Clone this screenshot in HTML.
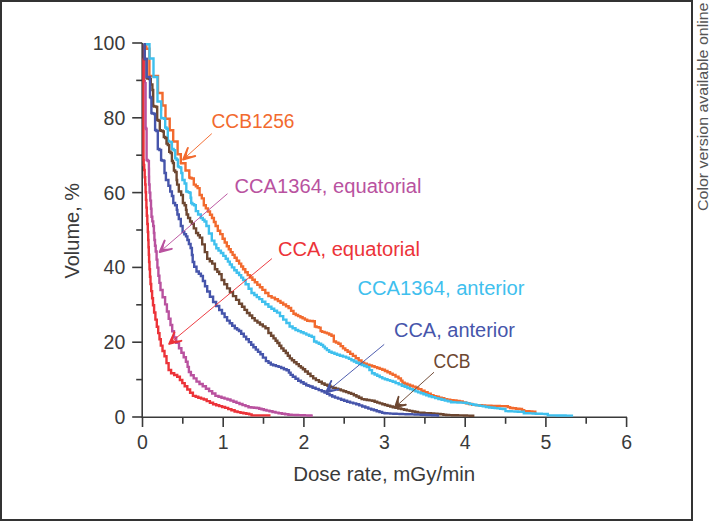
<!DOCTYPE html><html><head><meta charset="utf-8"><style>html,body{margin:0;padding:0;background:#fff;}svg{display:block;}text{font-family:"Liberation Sans", sans-serif;}</style></head><body>
<svg width="710" height="521" viewBox="0 0 710 521">
<rect x="0" y="0" width="710" height="521" fill="#fff"/>
<rect x="1" y="1" width="691" height="519" fill="none" stroke="#333" stroke-width="2"/>
<text transform="translate(708.3 211) rotate(-90)" font-size="14.5" fill="#555" textLength="208.5" lengthAdjust="spacingAndGlyphs">Color version available online</text>
<g stroke="#3a3a3a" stroke-width="1.6" fill="none">
<path d="M142.2 43 V417.2 H627"/>
<path d="M132.2 417.0 H142.2"/>
<path d="M136.2 379.6 H142.2"/>
<path d="M132.2 342.2 H142.2"/>
<path d="M136.2 304.8 H142.2"/>
<path d="M132.2 267.4 H142.2"/>
<path d="M136.2 230.0 H142.2"/>
<path d="M132.2 192.6 H142.2"/>
<path d="M136.2 155.2 H142.2"/>
<path d="M132.2 117.8 H142.2"/>
<path d="M136.2 80.4 H142.2"/>
<path d="M132.2 43.0 H142.2"/>
<path d="M142.5 417.2 V427.0"/>
<path d="M182.8 417.2 V423.8"/>
<path d="M223.2 417.2 V427.0"/>
<path d="M263.5 417.2 V423.8"/>
<path d="M303.9 417.2 V427.0"/>
<path d="M344.2 417.2 V423.8"/>
<path d="M384.5 417.2 V427.0"/>
<path d="M424.9 417.2 V423.8"/>
<path d="M465.2 417.2 V427.0"/>
<path d="M505.6 417.2 V423.8"/>
<path d="M545.9 417.2 V427.0"/>
<path d="M586.2 417.2 V423.8"/>
<path d="M626.6 417.2 V427.0"/>
</g>
<g font-size="19.5" fill="#3a3a3a">
<text x="125.3" y="424.0" text-anchor="end">0</text>
<text x="125.3" y="349.2" text-anchor="end">20</text>
<text x="125.3" y="274.4" text-anchor="end">40</text>
<text x="125.3" y="199.6" text-anchor="end">60</text>
<text x="125.3" y="124.8" text-anchor="end">80</text>
<text x="125.3" y="50.0" text-anchor="end">100</text>
<text x="142.5" y="449.2" text-anchor="middle">0</text>
<text x="223.2" y="449.2" text-anchor="middle">1</text>
<text x="303.9" y="449.2" text-anchor="middle">2</text>
<text x="384.5" y="449.2" text-anchor="middle">3</text>
<text x="465.2" y="449.2" text-anchor="middle">4</text>
<text x="545.9" y="449.2" text-anchor="middle">5</text>
<text x="626.6" y="449.2" text-anchor="middle">6</text>
</g>
<text x="293.2" y="480.5" font-size="19.5" fill="#3a3a3a" textLength="182" lengthAdjust="spacingAndGlyphs">Dose rate, mGy/min</text>
<text transform="translate(78.6 278.5) rotate(-90)" font-size="19.5" fill="#3a3a3a" textLength="95.5" lengthAdjust="spacingAndGlyphs">Volume, %</text>
<path d="M144.0 44.3V81.0H144.8V82.0H145.6" fill="none" stroke="#b9529f" stroke-width="2.4" stroke-linejoin="miter" stroke-linecap="butt"/>
<path d="M144.3 44.3V59.0H143.9V60.0H143.5V160.0H143.7V165.0H144.2V170.0H144.4H144.7V177.2H145.2V184.5H145.4H145.6V192.2H146.0V199.9H146.4V207.6H146.6H146.8V215.8H147.3V224.0H147.6H147.8V232.0H148.2V240.0H148.4H148.5V247.3H148.8V254.7H149.1V262.0H149.2H149.5V269.3H150.0V276.7H150.5V284.0H150.8H151.2V291.1H152.1V298.2H153.0V305.3H153.4H154.1V312.5H155.4V319.6H156.8V326.8H157.5H158.2V333.1H159.5V339.3H160.8V345.6H161.5H162.5V351.0H164.5V356.3H165.5H166.5V363.1H168.6V370.0H169.6H171.1V373.2H172.7H174.2V375.0H177.2V376.8H178.7H179.9V380.0H182.3V383.1H184.7V386.3H185.9H187.3V389.5H190.1V392.7H192.9V395.9H194.3H195.7V396.8H198.3V397.7H201.1V398.6H203.8V399.5H205.1H206.7V401.1H209.9V402.7H213.1V404.3H214.7H216.2V405.2H219.2V406.1H222.1V407.0H225.1V407.9H226.6H228.2V409.1H231.4V410.3H234.6V411.5H236.2H237.6V412.1H240.5V412.7H243.4V413.2H246.3V413.8H249.2V414.4H250.6H251.6V415.4H252.5H270.5" fill="none" stroke="#ec3339" stroke-width="2.4" stroke-linejoin="miter" stroke-linecap="butt"/>
<path d="M145.6 82.0V128.0H146.1V129.0H146.6V160.0H147.7V161.0H148.8H148.9V168.8H149.0V176.7H149.1V184.5H149.2H149.6V192.6H150.3V200.6H150.7H151.0V208.7H151.5V216.8H151.8H152.3V221.4H153.2V226.0H153.7H153.9V233.0H154.4V240.0H154.6H155.0V245.8H155.7V251.5H156.1H156.6V259.6H157.4V267.6H158.4V275.7H158.8H159.4V282.9H160.5V290.0H161.1H162.6V297.2H164.2H165.1V304.4H166.9V311.5H168.7V318.7H169.6H170.5V325.0H172.2V331.2H174.0V337.5H174.9H176.2V342.9H179.0V348.3H180.3H181.4V352.8H183.7V357.2H185.9V361.7H187.0H187.6V366.9H188.9V372.0H189.5H190.9V375.2H193.7V378.4H196.5V381.6H197.9H199.5V384.0H202.7V386.3H205.9V388.7H207.5H209.1V391.1H212.2V393.5H215.4V395.9H217.0H218.5V396.8H221.5V397.7H224.5V398.6H227.5V399.5H229.0H230.5V400.6H233.5V401.8H236.5V402.9H239.5V404.0H241.0H242.5V405.1H245.5V406.1H248.5V407.2H250.0H251.3V407.5H254.0V407.7H256.7V408.0H258.0H259.2V408.7H261.5V409.3H263.8V410.0H265.0H266.5V410.6H269.5V411.3H272.5V412.0H275.5V412.6H277.0H278.6V413.2H281.9V413.7H285.1V414.2H288.4V414.8H290.0H291.6V414.9H294.9V415.0H298.1V415.1H301.4V415.3H304.7V415.4H307.9V415.5H311.2V415.6H312.8" fill="none" stroke="#b9529f" stroke-width="2.4" stroke-linejoin="miter" stroke-linecap="butt"/>
<path d="M143.6 44.3H146.3V48.7H149.4V76.0H158.0V93.0H162.5V105.5H165.5V118.7H169.7V130.2H173.2V141.5H177.6V154.3H180.8V163.3H185.5V170.5H189.3V177.5H190.2V178.0H191.8V178.5H192.7H193.8V184.6H195.0H195.8V186.3H197.6V188.1H198.4H199.6V195.0H200.7H201.8V198.4H203.0H203.8V205.3H204.7H205.8V208.4H207.9V211.5H209.0H210.0V214.8H212.0V218.0H213.0H213.9V222.0H215.6V226.0H216.5H217.8V230.7H219.1H220.2V234.1H221.4H222.6V238.7H223.7H224.7V242.5H226.8V246.3H227.8H228.8V249.2H230.7V252.1H231.7H232.6V254.9H234.6V257.8H235.5H236.7V260.7H239.1V263.6H240.3H241.2V266.5H243.1V269.3H244.1H245.3V272.2H247.7V275.1H248.9H250.1V277.5H252.4V279.8H254.8V282.2H256.0H257.3V284.8H259.9V287.3H262.4V289.9H263.7H265.3V293.0H268.4V296.1H270.0H271.6V297.6H274.9V299.2H276.5H277.9V301.0H280.5V302.7H283.2V304.5H286.0V306.2H288.6V308.0H290.0H291.1V310.9H293.5V313.8H294.6H295.8V315.0H298.1V316.1H300.4V317.3H301.5H302.6V318.4H304.9V319.6H307.2V320.7H308.4H309.8V321.0H312.8V321.3H314.2H314.8V326.5H315.3H316.5V327.1H318.8V327.6H320.0H320.6V331.1H321.1H322.2V331.9H324.6V332.6H326.9V333.4H328.0H329.1V334.5H331.5V335.7H332.6H333.8V341.5H334.9H336.0V342.6H338.4V343.8H339.5H340.6V346.1H343.0V348.4H344.1H345.3V350.1H347.6V351.8H348.8H350.2V353.9H352.9V355.9H354.3H355.7V358.2H358.6V360.5H361.5V362.8H362.9H364.2V363.7H366.8V364.6H369.4V365.4H372.0V366.3H373.3H374.6V367.1H377.2V368.0H379.7V368.9H382.3V369.7H383.6H384.9V371.0H387.5V372.3H390.1V373.6H392.7V374.9H394.0H395.5V376.6H398.5V378.4H400.0H400.9V380.6H402.5V382.8H403.4H404.7V383.8H407.4V384.7H410.1V385.7H412.8V386.6H415.5V387.6H416.8H418.3V389.1H421.4V390.7H424.5V392.2H427.6V393.8H430.7V395.3H432.2H433.5V396.1H436.2V396.8H438.9V397.6H441.6V398.3H444.3V399.1H445.6H447.2V399.6H450.2V400.1H453.4V400.5H456.5V401.0H459.6V401.5H461.1H462.7V402.4H465.9V403.2H469.0V404.0H472.2V404.9H473.8H475.4V405.1H478.7V405.3H481.9V405.4H485.1V405.6H488.4V405.8H490.0H491.4V405.9H494.2V405.9H497.0V406.0H499.9V406.1H502.7V406.1H505.5V406.2H506.9H507.9V407.1H510.1V408.0H511.1H512.8V408.3H516.0V408.7H519.4V409.0H521.0H522.0V410.1H524.2V411.1H525.2H526.6V411.3H529.4V411.5H532.3V411.6H535.1V411.8H536.5" fill="none" stroke="#f26a2e" stroke-width="2.4" stroke-linejoin="miter" stroke-linecap="butt"/>
<path d="M143.6 44.3H149.5V58.5H153.5V77.0H157.5V101.5H161.2H161.2V109.8H161.1V118.0H161.1H162.1V118.3H164.2V118.7H165.2V127.5H166.5V128.8H167.8V141.0H168.8V141.6H170.9V142.2H171.9V149.0H173.6V150.3H175.2V158.4H176.6V159.7H177.9V166.4H178.8V167.1H180.5V167.8H181.3V173.0H182.4V180.0H183.4H184.6V183.5H185.7H186.3V191.5H186.9H187.8V192.1H189.5V192.7H190.3H190.6V197.8H191.2V203.0H191.5H192.4V204.2H194.1V205.3H195.0H195.8V211.1H196.7H198.1V214.5H199.6H200.8V218.0H201.9H202.8V219.8H204.5V221.5H205.3H206.4V226.0H207.6H208.9V233.5H210.2H211.8V240.6H213.4H214.4V244.4H216.3V248.2H217.3H218.5V250.6H220.9V253.0H222.1H223.3V255.9H225.7V258.8H226.9H227.9V261.6H229.8V264.5H230.7H231.9V267.4H234.3V270.3H235.5H236.7V272.7H239.1V275.1H240.3H241.2V277.6H243.1V280.0H244.1H245.6V284.3H248.6V288.7H251.5V293.0H253.0H254.3V295.0H256.8V297.1H259.3V299.1H260.6H262.2V301.7H265.3V304.2H268.4V306.8H270.0H271.4V308.7H274.2V310.7H277.0V312.6H278.4H280.0V316.1H283.2V319.6H286.4V323.0H289.6V326.5H291.2H292.6V328.2H295.5V330.0H296.9H298.2V331.1H300.9V332.3H303.6V333.4H305.0H306.3V334.6H309.0V335.7H311.7V336.9H313.0H314.1V341.5H315.3H316.5V342.6H318.8V343.8H321.1V344.9H322.3H323.1V346.6H324.9V348.4H325.7H326.9V350.1H329.1V351.8H330.3H331.6V352.8H334.4V353.7H337.0V354.7H338.4H339.9V355.7H343.0V356.6H346.1V357.6H347.6H348.9V358.9H351.4V360.2H353.9V361.5H356.4V362.8H357.7H359.0V363.9H361.6V365.0H364.2V366.0H366.8V367.1H368.1H369.4V370.1H372.0V373.2H373.3H374.6V374.5H377.2V375.8H379.7V377.1H382.3V378.4H383.6H384.9V379.2H387.5V380.1H390.1V380.9H392.7V381.8H394.0H395.6V383.1H398.7V384.4H401.8V385.7H403.4H404.7V386.8H407.4V388.0H410.1V389.1H412.8V390.3H415.5V391.4H416.8H418.1V392.4H420.8V393.3H423.5V394.3H426.2V395.2H428.9V396.2H430.2H431.8V397.1H435.1V398.1H438.4V399.0H440.0H441.6V399.8H444.8V400.6H447.9V401.4H451.1V402.2H452.7H454.3V402.4H457.5V402.5H460.6V402.6H463.8V402.8H465.4H467.0V403.4H470.1V404.1H473.3V404.8H476.4V405.4H478.0H479.6V405.9H482.8V406.4H485.9V407.0H489.1V407.5H490.7H492.0V407.8H494.7V408.1H497.4V408.4H500.1V408.7H502.8V409.0H504.1H505.5V411.1H506.9H508.4V411.2H511.6V411.4H514.6V411.5H517.8V411.7H520.8V411.8H522.4H523.8V413.2H525.2H526.7V413.3H529.7V413.4H532.7V413.5H535.8V413.7H538.8V413.8H541.8V413.9H544.8V414.0H546.3H547.8V415.4H549.2H550.7V415.4H553.7V415.4H556.7V415.5H559.7V415.5H562.6V415.5H565.6V415.6H568.6V415.6H571.6V415.6H573.1" fill="none" stroke="#3fc0ee" stroke-width="2.4" stroke-linejoin="miter" stroke-linecap="butt"/>
<path d="M144.7 44.3V59.0H146.6V78.0H147.4V78.5H149.2V79.0H150.0H150.8V84.5H152.4V90.0H153.2V106.0H154.2V106.5H156.2V107.0H157.2V120.0H158.5V120.7H159.8V130.2H160.8V130.8H162.8V131.5H163.8V137.0H165.2V138.0H166.5V143.6H167.8V145.0H169.2V151.7H170.6V153.0H171.9V161.0H172.9V163.0H173.9V170.5H175.2V172.0H176.6V180.0H177.1V184.6H177.7H178.8V191.5H180.0H181.2V195.0H182.3H182.9V203.0H183.4H184.6V205.3H185.7H186.0V209.9H186.6V214.5H186.9H188.1V218.0H189.2H190.1V221.5H190.9H191.8V223.8H192.6H193.8V228.4H195.0H196.1V233.0H197.2H198.1V235.3H199.8V237.6H200.7H202.2V244.4H203.8H204.8V252.1H205.8H207.2V258.8H208.6H209.8V261.2H212.2V263.6H213.4H214.9V269.3H216.3H217.3V271.7H219.2V274.1H220.2H221.6V280.0H223.0H224.3V284.2H227.1V288.4H228.4H229.9V292.2H233.0V296.1H234.5H236.1V299.9H239.1V303.7H240.7H242.0V306.8H244.5V309.9H247.0V313.0H248.3H249.6V315.5H252.2V318.1H254.7V320.6H256.0H257.4V322.5H260.0V324.5H262.8V326.4H265.5V328.3H266.8H268.4V333.0H270.0H271.1V335.7H273.5V338.4H274.6H275.6V340.7H277.4V343.0H278.4H279.4V345.7H281.3V348.4H282.3H283.5V350.7H285.8V353.0H286.9H287.8V355.7H289.8V358.4H290.7H291.9V360.3H294.1V362.2H295.3H296.5V364.1H298.8V366.1H300.0H300.9V367.6H302.9V369.2H303.8H305.1V371.5H307.8V373.8H310.5V376.1H313.2V378.4H314.5H315.9V380.1H318.9V381.8H321.8V383.5H323.2H324.6V384.7H327.5V385.8H330.4V387.0H331.8H333.1V387.9H335.7V388.7H338.3V389.5H340.9V390.4H342.2H343.5V391.3H346.1V392.1H348.6V393.0H351.2V393.9H352.5H353.8V395.2H356.4V396.5H359.0V397.8H361.6V399.1H362.9H364.2V399.5H366.8V400.0H369.4V400.4H372.0V400.8H373.3H374.6V401.7H377.2V402.6H379.7V403.4H382.3V404.3H383.6H384.9V405.0H387.5V405.8H390.2V406.5H392.8V407.2H394.1H395.5V407.9H398.3V408.5H401.2V409.1H404.0V409.8H405.4H406.8V410.4H409.6V410.9H412.4V411.5H415.2V412.0H418.0V412.6H419.4H421.0V412.8H424.4V413.1H427.6V413.3H430.9V413.5H434.2V413.8H437.5V414.0H439.2H440.6V414.3H443.4V414.7H446.2V415.0H447.6H449.1V415.1H452.1V415.2H455.0V415.3H458.0V415.4H461.0V415.4H464.0V415.5H467.0V415.6H469.9V415.7H472.9V415.8H474.4" fill="none" stroke="#6d4731" stroke-width="2.4" stroke-linejoin="miter" stroke-linecap="butt"/>
<path d="M143.6 44.3H144.7V59.0H146.6V77.0H150.0V97.0H150.7V98.0H151.4V113.0H152.3V113.5H154.2V114.0H155.1V130.0H156.4V131.0H157.8V149.0H159.4V150.0H161.1V160.0H161.9V160.5H163.7V161.0H164.5V173.0H165.9V180.0H167.3H168.4V185.8H169.6H170.2V191.5H170.8H171.9V196.0H173.1H173.3V203.0H173.6H175.1V205.3H176.5H176.8V209.9H177.4V214.5H177.7H178.8V219.0H180.0H180.8V226.0H181.7H182.6V232.0H183.4H184.3V234.2H186.0V236.4H186.9H187.4V240.0H188.0H188.9V244.0H190.6V248.0H191.5H191.9V255.0H192.7V262.0H193.1H194.2V266.8H196.5V271.5H197.7H198.8V273.8H200.9V276.0H201.9H202.9V281.0H203.8H205.0V286.2H207.2V291.5H208.4H209.9V296.8H213.1V302.0H214.6H216.1V306.0H219.2V310.0H220.7H222.0V313.5H224.6V317.1H227.1V320.6H228.4H229.7V323.2H232.2V325.7H234.8V328.3H236.1H237.1V329.6H239.0V331.0H240.0H241.2V333.8H243.8V336.6H246.2V339.3H248.8V342.1H250.0H251.2V344.7H253.4V347.3H254.6H255.8V349.6H258.0V351.9H260.4V354.2H261.5H262.9V357.6H265.9V361.1H267.3H268.5V362.8H270.8V364.5H271.9H273.2V365.3H275.9V366.1H278.6V366.9H279.9H281.2V368.0H283.9V369.2H286.6V370.3H288.0H288.9V372.6H290.6V374.9H291.5H292.8V376.8H295.5V378.8H298.2V380.7H299.5H300.9V382.2H303.6V383.8H306.2V385.3H307.6H308.5V385.9H310.2V386.5H311.1H312.6V387.7H315.6V388.9H318.7V390.1H321.7V391.3H323.2H324.5V392.6H327.1V393.9H329.6V395.2H332.2V396.5H333.5H335.0V397.6H338.0V398.6H341.1V399.7H344.1V400.8H345.6H347.1V401.7H350.1V402.6H353.2V403.4H356.2V404.3H357.7H359.2V405.4H362.2V406.5H365.3V407.5H368.3V408.6H369.8H371.2V409.5H373.9V410.3H376.7V411.2H379.5V412.0H382.2V412.9H383.6H384.6V413.3H385.6H387.2V413.4H390.2V413.6H393.4V413.7H396.5V413.9H399.6V414.0H401.1H402.6V414.1H405.6V414.2H408.7V414.3H411.7V414.4H414.7V414.5H417.8V414.6H420.8V414.7H422.3H423.7V414.8H426.5V415.0H429.3V415.1H432.2V415.2H435.0V415.4H437.8V415.5H439.2" fill="none" stroke="#4655ab" stroke-width="2.4" stroke-linejoin="miter" stroke-linecap="butt"/>
<line x1="211.8" y1="133.6" x2="186.8" y2="156.2" stroke="#f26a2e" stroke-width="0.95"/><path d="M182.4 160.2L195.2 156.0L186.8 156.2L187.9 147.9Z" fill="#f26a2e"/><path d="M195.2 156.0L183.1 159.5L187.9 147.9" fill="none" stroke="#f26a2e" stroke-width="1.9" stroke-linejoin="round" stroke-linecap="round"/>
<line x1="227.5" y1="193.7" x2="163.4" y2="248.8" stroke="#b9529f" stroke-width="0.95"/><path d="M158.9 252.7L171.8 248.8L163.4 248.8L164.7 240.5Z" fill="#b9529f"/><path d="M171.8 248.8L159.7 252.0L164.7 240.5" fill="none" stroke="#b9529f" stroke-width="1.9" stroke-linejoin="round" stroke-linecap="round"/>
<line x1="271.9" y1="258.6" x2="173.0" y2="340.6" stroke="#ec3339" stroke-width="0.95"/><path d="M168.4 344.4L181.4 340.8L173.0 340.6L174.4 332.3Z" fill="#ec3339"/><path d="M181.4 340.8L169.2 343.8L174.4 332.3" fill="none" stroke="#ec3339" stroke-width="1.9" stroke-linejoin="round" stroke-linecap="round"/>
<line x1="384.2" y1="344.4" x2="329.9" y2="389.2" stroke="#4655ab" stroke-width="0.95"/><path d="M325.3 393.0L338.3 389.4L329.9 389.2L331.3 380.9Z" fill="#4655ab"/><path d="M338.3 389.4L326.1 392.4L331.3 380.9" fill="none" stroke="#4655ab" stroke-width="1.9" stroke-linejoin="round" stroke-linecap="round"/>
<line x1="434.0" y1="372.2" x2="398.9" y2="403.8" stroke="#6d4731" stroke-width="0.95"/><path d="M394.4 407.8L405.8 404.8L398.9 403.8L398.6 396.8Z" fill="#6d4731"/><path d="M405.8 404.8L395.1 407.1L398.6 396.8" fill="none" stroke="#6d4731" stroke-width="1.9" stroke-linejoin="round" stroke-linecap="round"/>
<text x="211.5" y="127.6" font-size="19.5" fill="#f26a2e" textLength="83.0" lengthAdjust="spacingAndGlyphs">CCB1256</text>
<text x="234.5" y="193.2" font-size="19.5" fill="#b9529f" textLength="187.0" lengthAdjust="spacingAndGlyphs">CCA1364, equatorial</text>
<text x="278.0" y="256.4" font-size="19.5" fill="#ec3339" textLength="142.0" lengthAdjust="spacingAndGlyphs">CCA, equatorial</text>
<text x="357.5" y="295.4" font-size="19.5" fill="#3fc0ee" textLength="167.0" lengthAdjust="spacingAndGlyphs">CCA1364, anterior</text>
<text x="394.0" y="336.8" font-size="19.5" fill="#4655ab" textLength="121.0" lengthAdjust="spacingAndGlyphs">CCA, anterior</text>
<text x="433.5" y="367.5" font-size="19.5" fill="#6d4731" textLength="37.0" lengthAdjust="spacingAndGlyphs">CCB</text>
</svg></body></html>
